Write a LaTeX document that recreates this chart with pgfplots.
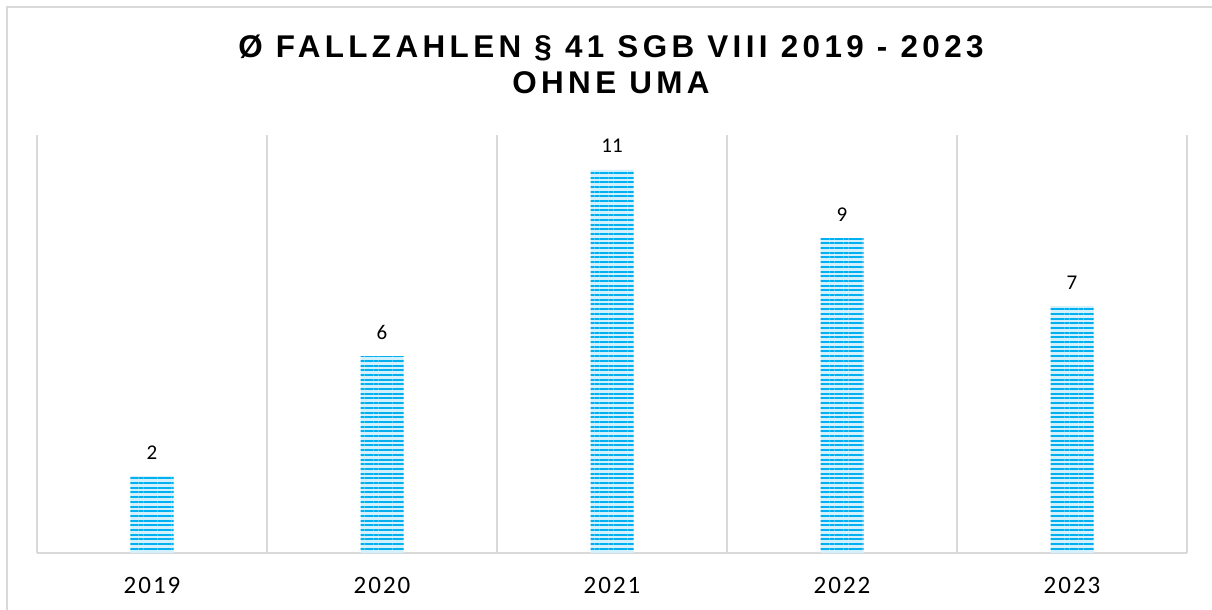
\documentclass[border=0pt]{standalone}
\usepackage{pgfplots}
\pgfplotsset{compat=1.18}
\usepackage{pgfplotstable}
\usepackage{fontspec}
\usetikzlibrary{patterns.meta}
\setmainfont{Carlito}
\newfontfamily\titlefont[LetterSpace=14]{Liberation Sans}
\newfontfamily\tickfont[LetterSpace=8]{Carlito}
\definecolor{gridgray}{HTML}{D9D9D9}
\definecolor{barblue}{HTML}{00B0F0}
\definecolor{barlight}{HTML}{D2F1FC}
\pgfplotstableread{
x y lab
0 2.21 2
1 5.65 6
2 11.0 11
3 9.04 9
4 7.09 7
}\fallzahlen
\begin{document}
\begin{tikzpicture}
\useasboundingbox (0,0) rectangle (606pt,305pt);
\draw[gridgray, line width=0.75pt] (3.5pt,0) -- (3.5pt,301.5pt) -- (606pt,301.5pt);
\node[anchor=base, inner sep=0pt, font={\titlefont\fontsize{15.7pt}{18pt}\selectfont\bfseries}] at (305.5pt,276.15pt) {Ø FALLZAHLEN § 41 SGB VIII 2019 - 2023};
\node[anchor=base, inner sep=0pt, font={\titlefont\fontsize{15.7pt}{18pt}\selectfont\bfseries}] at (305.5pt,258pt) {OHNE UMA};
\begin{axis}[
  at={(18.5pt,28.5pt)}, anchor=south west,
  scale only axis, width=575pt, height=209pt,
  xmin=-0.5, xmax=4.5, ymin=0, ymax=12,
  axis x line*=bottom, axis y line=none,
  x axis line style={draw=gridgray, line width=1pt, -},
  xtick={0,1,2,3,4},
  xticklabels={2019,2020,2021,2022,2023},
  major tick length=0pt,
  minor xtick={-0.5,0.5,1.5,2.5,3.5,4.5},
  minor tick length=0pt,
  xminorgrids=true,
  minor grid style={draw=gridgray, line width=0.65pt},
  xticklabel style={font={\tickfont\fontsize{12.5pt}{14pt}\selectfont}, anchor=north, inner sep=0pt, yshift=-12pt, text=black},
  ybar, bar width=21.5pt,
  clip=false,
  point meta=explicit symbolic,
  nodes near coords,
  every node near coord/.append style={font={\fontsize{10.5pt}{12pt}\selectfont}, anchor=base, inner sep=0pt, yshift=8.5pt, text=black},
]
\addplot[draw=none, fill=barlight, postaction={pattern={Lines[angle=0,distance=2.35pt,line width=1.0pt]}, pattern color=barblue}] table[x=x, y=y, meta=lab] {\fallzahlen};
\end{axis}
\end{tikzpicture}
\end{document}
